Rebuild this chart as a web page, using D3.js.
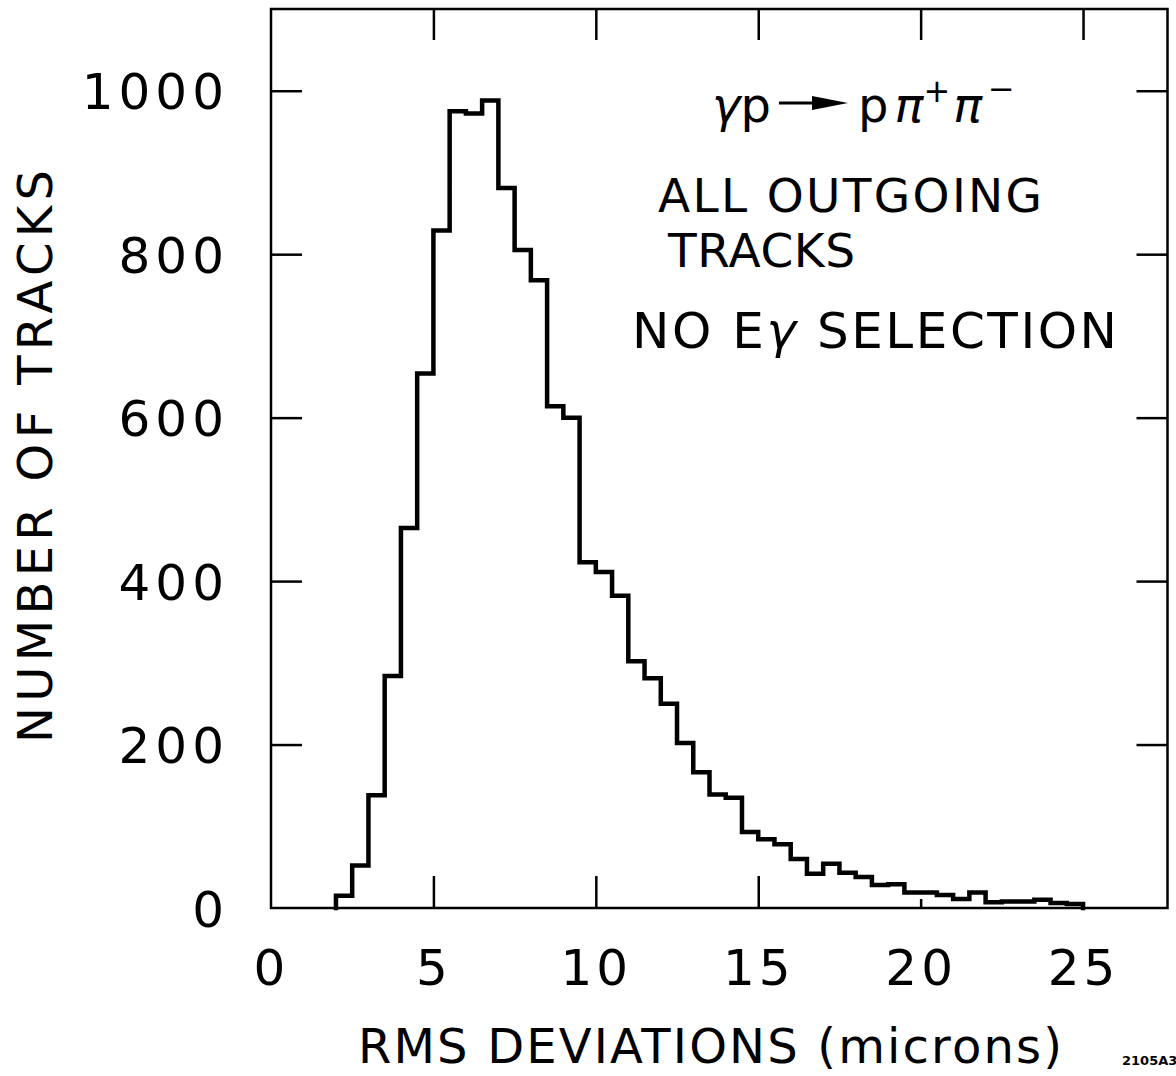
<!DOCTYPE html>
<html>
<head>
<meta charset="utf-8">
<script src="https://cdn.jsdelivr.net/npm/d3@7"></script>
<style>
  html, body { margin: 0; padding: 0; background: #fff; }
  svg { display: block; }
  text { font-family: "DejaVu Sans", "Liberation Sans", sans-serif; fill: #000; }
</style>
</head>
<body>
<svg id="chart" width="1176" height="1076"></svg>
<script>
// ---- data ----
const binLow = [2.0, 2.5, 3.0, 3.5, 4.0, 4.5, 5.0, 5.5, 6.0, 6.5,
                7.0, 7.5, 8.0, 8.5, 9.0, 9.5, 10.0, 10.5, 11.0, 11.5,
                12.0, 12.5, 13.0, 13.5, 14.0, 14.5, 15.0, 15.5, 16.0, 16.5,
                17.0, 17.5, 18.0, 18.5, 19.0, 19.5, 20.0, 20.5, 21.0, 21.5,
                22.0, 22.5, 23.0, 23.5, 24.0, 24.5];
const binWidth = 0.5;
const trackCounts = [15, 52, 138, 284, 465, 654, 829, 975, 972, 988,
                     881, 805, 768, 614, 600, 423, 411, 382, 302, 281,
                     250, 202, 166, 139, 135, 93, 84, 78, 60, 42,
                     54, 43, 38, 28, 29, 19, 19, 16, 11, 19,
                     7, 8, 8, 10, 6, 5];
const xTickValues = [0, 5, 10, 15, 20, 25];
const yTickValues = [0, 200, 400, 600, 800, 1000];
const xTitle = "RMS DEVIATIONS (microns)";
const yTitle = "NUMBER OF TRACKS";
const noteLine1 = "ALL OUTGOING";
const noteLine2 = "TRACKS";
const figureId = "2105A3";

// ---- scales ----
const svg = d3.select("#chart");
const x = d3.scaleLinear().domain([0, 27.6]).range([271, 1167.5]);
const y = d3.scaleLinear().domain([0, 1100]).range([908, 9]);
const [xl, xr] = x.range();
const [yb, yt] = y.range();

// ---- frame ----
svg.append("rect")
  .attr("x", xl).attr("y", yt)
  .attr("width", xr - xl).attr("height", yb - yt)
  .attr("fill", "none").attr("stroke", "#000").attr("stroke-width", 2.5);

function styleTicks(g, w) {
  g.select(".domain").remove();
  g.selectAll(".tick line").attr("stroke", "#000").attr("stroke-width", w);
}

// inward ticks: left
svg.append("g").attr("transform", `translate(${xl},0)`)
  .call(d3.axisRight(y).tickValues(yTickValues.filter(v => v > 0)).tickSize(31).tickFormat(""))
  .call(g => styleTicks(g, 2.5));
// right
svg.append("g").attr("transform", `translate(${xr},0)`)
  .call(d3.axisLeft(y).tickValues(yTickValues.filter(v => v > 0)).tickSize(31).tickFormat(""))
  .call(g => styleTicks(g, 2.5));
// top
svg.append("g").attr("transform", `translate(0,${yt})`)
  .call(d3.axisBottom(x).tickValues(xTickValues.filter(v => v > 0)).tickSize(31).tickFormat(""))
  .call(g => styleTicks(g, 2.5));
// bottom
svg.append("g").attr("transform", `translate(0,${yb})`)
  .call(d3.axisTop(x).tickValues([5, 10, 15]).tickSize(32).tickFormat(""))
  .call(g => styleTicks(g, 2.5));
svg.append("g").attr("transform", `translate(0,${yb})`)
  .call(d3.axisTop(x).tickValues([20]).tickSize(9).tickFormat(""))
  .call(g => styleTicks(g, 2.5));

// ---- tick labels ----
svg.append("g").attr("transform", `translate(${xl},0)`)
  .call(d3.axisLeft(y).tickValues(yTickValues).tickSize(0).tickPadding(42).tickFormat(d3.format("d")))
  .call(g => {
    g.select(".domain").remove();
    g.selectAll("text")
      .attr("font-family", "DejaVu Sans, sans-serif")
      .attr("font-size", 50)
      .attr("letter-spacing", "5px")
      .attr("dy", "0.36em")
      .attr("fill", "#000");
  });

svg.append("g").attr("transform", `translate(0,${yb})`)
  .call(d3.axisBottom(x).tickValues(xTickValues).tickSize(0).tickPadding(41).tickFormat(d3.format("d")))
  .call(g => {
    g.select(".domain").remove();
    g.selectAll("text")
      .attr("font-family", "DejaVu Sans, sans-serif")
      .attr("font-size", 50)
      .attr("letter-spacing", "4px")
      .attr("fill", "#000");
  });

// ---- histogram ----
const pts = [[binLow[0], 0]];
binLow.forEach((lo, i) => {
  pts.push([lo, trackCounts[i]]);
  pts.push([lo + binWidth, trackCounts[i]]);
});
pts.push([binLow[binLow.length - 1] + binWidth, 0]);

svg.append("path")
  .datum(pts)
  .attr("d", d3.line().x(d => x(d[0])).y(d => y(d[1])))
  .attr("fill", "none")
  .attr("stroke", "#000")
  .attr("stroke-width", 4.5)
  .attr("stroke-linejoin", "miter")
  .attr("stroke-linecap", "square");

// ---- axis titles ----
svg.append("text")
  .attr("x", 358).attr("y", 1063)
  .attr("font-size", 48)
  .attr("textLength", 704).attr("lengthAdjust", "spacing")
  .text(xTitle);

svg.append("text")
  .attr("transform", "translate(52,743) rotate(-90)")
  .attr("font-size", 48)
  .attr("textLength", 573).attr("lengthAdjust", "spacing")
  .text(yTitle);

svg.append("text")
  .attr("x", 1122).attr("y", 1065)
  .attr("font-size", 13).attr("font-weight", "bold")
  .attr("font-family", "Liberation Sans, sans-serif")
  .text(figureId);

// ---- annotations ----
const rx = svg.append("text").attr("x", 712).attr("y", 122).attr("font-size", 48);
rx.append("tspan").attr("font-style", "italic").text("γ");
rx.append("tspan").text("p");

// arrow
svg.append("line")
  .attr("x1", 779).attr("y1", 103).attr("x2", 830).attr("y2", 103)
  .attr("stroke", "#000").attr("stroke-width", 3);
svg.append("path")
  .attr("d", "M812,96 L848,103 L812,110 Z")
  .attr("fill", "#000");

const prod = svg.append("text").attr("x", 858).attr("y", 122).attr("font-size", 48);
prod.append("tspan").text("p");
prod.append("tspan").attr("font-style", "italic").attr("dx", 6).text("π");
prod.append("tspan").attr("font-size", 32).attr("dy", -20).text("+");
prod.append("tspan").attr("font-style", "italic").attr("dx", 3).attr("dy", 20).text("π");
prod.append("tspan").attr("font-size", 32).attr("dx", 6).attr("dy", -22).text("−");

svg.append("text")
  .attr("x", 658).attr("y", 212)
  .attr("font-size", 47)
  .attr("textLength", 384).attr("lengthAdjust", "spacing")
  .text(noteLine1);
svg.append("text")
  .attr("x", 668).attr("y", 267)
  .attr("font-size", 47)
  .attr("textLength", 187).attr("lengthAdjust", "spacing")
  .text(noteLine2);

const sel = svg.append("text")
  .attr("x", 632).attr("y", 348)
  .attr("font-size", 50)
  .attr("textLength", 485).attr("lengthAdjust", "spacing");
sel.append("tspan").text("NO E");
sel.append("tspan").attr("font-style", "italic").text("γ");
sel.append("tspan").text(" SELECTION");
</script>
</body>
</html>
